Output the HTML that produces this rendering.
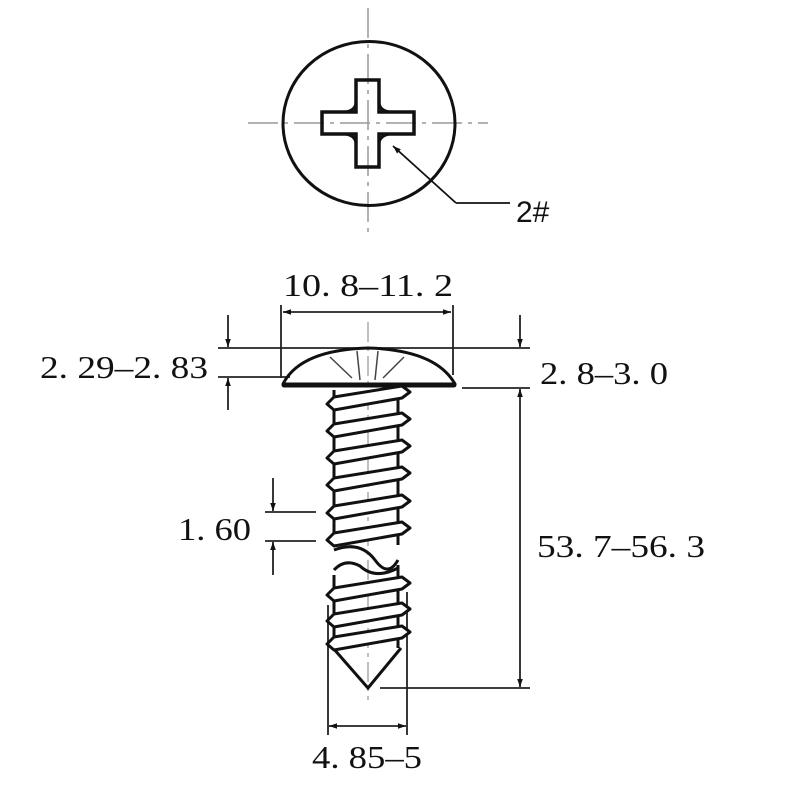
<!DOCTYPE html>
<html><head><meta charset="utf-8"><style>
html,body{margin:0;padding:0;background:#fff}
svg{display:block}
text{font-family:"Liberation Serif","Noto Serif CJK SC",serif;font-size:32px;fill:#111}
</style></head><body>
<svg width="800" height="800" viewBox="0 0 800 800" xmlns="http://www.w3.org/2000/svg">
<defs>
<marker id="a" viewBox="0 0 10 10" refX="10" refY="5" markerWidth="14" markerHeight="8" orient="auto-start-reverse" markerUnits="userSpaceOnUse"><path d="M0,1.5 L10,5 L0,8.5 Z" fill="#111"/></marker>
</defs>
<!-- top view -->
<g stroke="#999" stroke-width="1.5" stroke-dasharray="30,6,4,6">
<line x1="368" y1="8" x2="368" y2="238"/>
<line x1="248" y1="123" x2="488" y2="123"/>
</g>
<ellipse cx="369" cy="123.5" rx="86" ry="82" fill="none" stroke="#111" stroke-width="3"/>
<path d="M356,80 H379 V112 H414 V134 H379 V167 H356 V134 H322 V112 H356 Z" fill="none" stroke="#111" stroke-width="3.5" stroke-linejoin="miter"/>
<path d="M356,112 Q356,112 346,112 M346,112" stroke="none"/>
<g stroke="#111" stroke-width="3" fill="none">
<path d="M346,112 Q356,110 356,102"/><path d="M379,102 Q379,110 389,112"/>
<path d="M346,134 Q356,136 356,144"/><path d="M379,144 Q379,136 389,134"/>
</g>
<polyline points="456,203 510,203" fill="none" stroke="#111" stroke-width="1.8"/>
<line x1="456" y1="203" x2="393" y2="146" stroke="#111" stroke-width="1.8" marker-end="url(#a)"/>
<text x="516" y="222" style="font-family:'Liberation Sans',sans-serif;font-size:30px">2#</text>

<!-- dims -->
<g stroke="#222" stroke-width="1.8" fill="none">
<line x1="281" y1="305" x2="281" y2="378"/>
<line x1="453" y1="305" x2="453" y2="375"/>
<line x1="283" y1="312" x2="451" y2="312" marker-start="url(#a)" marker-end="url(#a)"/>
<line x1="218" y1="348" x2="530" y2="348"/>
<line x1="218" y1="377" x2="290" y2="377"/>
<line x1="462" y1="388" x2="530" y2="388"/>
<line x1="228" y1="315" x2="228" y2="347" marker-end="url(#a)"/>
<line x1="228" y1="410" x2="228" y2="378" marker-end="url(#a)"/>
<line x1="520" y1="315" x2="520" y2="347" marker-end="url(#a)"/>
<line x1="520" y1="389" x2="520" y2="687" marker-start="url(#a)" marker-end="url(#a)"/>
<line x1="380" y1="688" x2="530" y2="688"/>
<line x1="265" y1="512" x2="316" y2="512"/>
<line x1="265" y1="541" x2="316" y2="541"/>
<line x1="273" y1="478" x2="273" y2="511" marker-end="url(#a)"/>
<line x1="273" y1="575" x2="273" y2="542" marker-end="url(#a)"/>
<line x1="328" y1="605" x2="328" y2="735"/>
<line x1="407" y1="592" x2="407" y2="735"/>
<line x1="329" y1="726" x2="406" y2="726" marker-start="url(#a)" marker-end="url(#a)"/>
</g>
<text x="283" y="296" textLength="170" lengthAdjust="spacingAndGlyphs">10. 8–11. 2</text>
<text x="40" y="378" textLength="168" lengthAdjust="spacingAndGlyphs">2. 29–2. 83</text>
<text x="540" y="384" textLength="128" lengthAdjust="spacingAndGlyphs">2. 8–3. 0</text>
<text x="537" y="557" textLength="168" lengthAdjust="spacingAndGlyphs">53. 7–56. 3</text>
<text x="178" y="540" textLength="73" lengthAdjust="spacingAndGlyphs">1. 60</text>
<text x="312" y="768" textLength="110" lengthAdjust="spacingAndGlyphs">4. 85–5</text>

<!-- screw side -->
<line x1="368" y1="322" x2="368" y2="700" stroke="#aaa" stroke-width="1.5" stroke-dasharray="20,5,4,5"/>
<path d="M283,384 Q300,350 368,348 Q436,350 455,384 Z" fill="none" stroke="#111" stroke-width="3" stroke-linejoin="round"/>
<line x1="284" y1="385" x2="454" y2="385" stroke="#111" stroke-width="5" stroke-linecap="round"/>
<g stroke="#444" stroke-width="1.5" fill="none">
<path d="M330,357 L352,378 M357,351 L360,380 M378,351 L375,380 M404,357 L383,378"/>
</g>
<g fill="none" stroke="#111" stroke-width="3">
<line x1="334" y1="390" x2="334" y2="545"/>
<line x1="398" y1="390" x2="398" y2="545"/>
<line x1="334" y1="575" x2="334" y2="648"/>
<line x1="398" y1="565" x2="398" y2="648"/>
<path d="M334,550 Q360,540 375,560 Q388,578 398,560"/>
<path d="M334,570 Q345,558 360,566 Q375,580 398,568"/>
<path d="M333,648 L368,688 L401,648"/>
</g>
<g fill="#fff" stroke="#111" stroke-width="3" stroke-linejoin="round">
<path d="M334,397 L327,404 L334,410 L402,398 L410,392 L402,386 Z"/>
<path d="M334,424 L327,431 L334,437 L402,425 L410,419 L402,413 Z"/>
<path d="M334,451 L327,458 L334,464 L402,452 L410,446 L402,440 Z"/>
<path d="M334,478 L327,485 L334,491 L402,479 L410,473 L402,467 Z"/>
<path d="M334,506 L327,513 L334,519 L402,507 L410,501 L402,495 Z"/>
<path d="M334,533 L327,540 L334,546 L402,534 L410,528 L402,522 Z"/>
<path d="M334,588 L327,595 L334,601 L402,589 L410,583 L402,577 Z"/>
<path d="M334,614 L327,621 L334,627 L402,615 L410,609 L402,603 Z"/>
<path d="M334,637 L327,644 L334,650 L402,638 L410,632 L402,626 Z"/>
</g>
</svg>
</body></html>
